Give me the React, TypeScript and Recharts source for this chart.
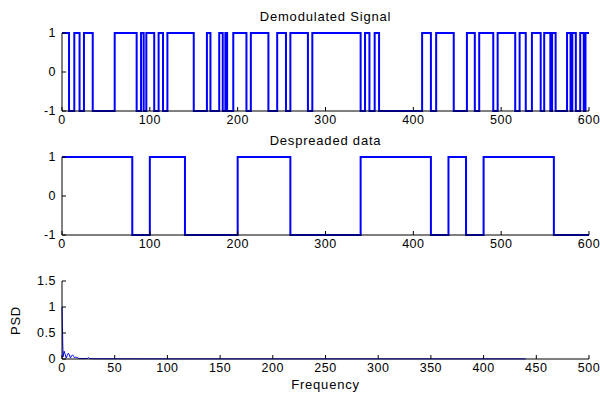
import { LineChart, Line, XAxis, YAxis } from "recharts";

// demodulated signal: sample index where the level changes, and the level from there on
const demodEdges = [
  0, 8, 14, 20, 25, 35, 60, 85, 90, 93, 96, 105, 110, 115, 120, 150, 165, 169,
  179, 183, 186, 188, 195, 210, 215, 235, 245, 255, 260, 280, 285, 340, 345,
  350, 356, 361, 410, 420, 426, 446, 461, 470, 475, 491, 496, 516, 521, 528,
  535, 545, 549, 556, 558, 562, 575, 579, 581, 585, 590, 594, 596, 600,
];
const demodLevels = [
  1, -1, 1, -1, 1, -1, 1, -1, 1, -1, 1, -1, 1, -1, 1, -1, 1, -1,
  1, -1, 1, -1, 1, -1, 1, -1, 1, -1, 1, -1, 1, -1, 1,
  -1, 1, -1, 1, -1, 1, -1, 1, -1, 1, -1, 1, -1, 1, -1,
  1, -1, 1, -1, 1, -1, 1, -1, 1, -1, 1, -1, 1, 1,
];

// despreaded data bits
const despreadEdges = [0, 80, 100, 140, 200, 260, 340, 420, 440, 460, 480, 560, 600];
const despreadLevels = [1, -1, 1, -1, 1, -1, 1, -1, 1, -1, 1, -1, -1];

// power spectral density
const psdFreq = [0, 1, 2, 3, 4, 5, 6, 7, 8, 9, 10, 11, 12, 13, 14, 16, 20, 24, 25, 26, 30, 60, 100, 200, 300, 440];
const psdValue = [1.0, 0.04, 0.15, 0.09, 0.02, 0.07, 0.11, 0.08, 0.02, 0.06, 0.08, 0.05, 0.02, 0.04, 0.03, 0.01, 0.01, 0.01, 0.03, 0.01, 0.005, 0.004, 0.003, 0.003, 0.003, 0.003];

const xTicks600 = [0, 100, 200, 300, 400, 500, 600];
const xTicks500 = [0, 50, 100, 150, 200, 250, 300, 350, 400, 450, 500];
const yTicksSig = [-1, 0, 1];
const yTicksPsd = [0, 0.5, 1, 1.5];

const FONT = '"Liberation Sans", Arial, Helvetica, sans-serif';
const tickStyle = { fontSize: 12.5, fill: "#000", fontFamily: FONT, letterSpacing: 0.5 };
const blank = () => "";

const demodData = demodEdges.map((x, i) => ({ x, y: demodLevels[i] }));
const despreadData = despreadEdges.map((x, i) => ({ x, y: despreadLevels[i] }));
const psdData = psdFreq.map((x, i) => ({ x, y: psdValue[i] }));

interface PanelProps {
  top: number;
  height: number;
  marginTop: number;
  data: { x: number; y: number }[];
  xMax: number;
  xTicks: number[];
  yMin: number;
  yMax: number;
  yTicks: number[];
  step: boolean;
  width: number;
}

function Panel({ top, height, marginTop, data, xMax, xTicks, yMin, yMax, yTicks, step, width }: PanelProps) {
  const axisLine = { stroke: "#000", strokeWidth: 1 };
  return (
    <div style={{ position: "absolute", left: 0, top }}>
      <LineChart
        width={600}
        height={height}
        data={data}
        margin={{ top: marginTop, right: 11, bottom: height - marginTop - 78 - 20, left: 0 }}
      >
        <XAxis
          dataKey="x"
          type="number"
          domain={[0, xMax]}
          ticks={xTicks}
          interval={0}
          height={20}
          tickSize={-4}
          tickMargin={8}
          tick={tickStyle}
          axisLine={axisLine}
          tickLine={axisLine}
        />
        <XAxis
          xAxisId="top"
          orientation="top"
          dataKey="x"
          type="number"
          domain={[0, xMax]}
          ticks={xTicks}
          interval={0}
          height={0}
          tickSize={-4}
          tickFormatter={blank}
          axisLine={axisLine}
          tickLine={axisLine}
        />
        <YAxis
          type="number"
          domain={[yMin, yMax]}
          ticks={yTicks}
          interval={0}
          width={62}
          tickSize={-4}
          tickMargin={10}
          tick={tickStyle}
          axisLine={axisLine}
          tickLine={axisLine}
        />
        <YAxis
          yAxisId="right"
          orientation="right"
          type="number"
          domain={[yMin, yMax]}
          ticks={yTicks}
          interval={0}
          width={0}
          tickSize={-4}
          tickFormatter={blank}
          axisLine={axisLine}
          tickLine={axisLine}
        />
        <Line
          dataKey="y"
          type={step ? "stepAfter" : "linear"}
          stroke="#0000ff"
          strokeWidth={width}
          dot={false}
          activeDot={false}
          isAnimationActive={false}
        />
      </LineChart>
    </div>
  );
}

const labelStyle = {
  position: "absolute" as const,
  fontFamily: FONT,
  fontSize: 13,
  letterSpacing: 0.8,
  lineHeight: "15px",
  color: "#000",
};

export default function App() {
  return (
    <div style={{ position: "absolute", left: 0, top: 0, width: 600, height: 394, background: "#fff" }}>
      <Panel top={0} height={131} marginTop={33} data={demodData} xMax={600} xTicks={xTicks600} yMin={-1} yMax={1} yTicks={yTicksSig} step width={2} />
      <Panel top={131} height={124} marginTop={26} data={despreadData} xMax={600} xTicks={xTicks600} yMin={-1} yMax={1} yTicks={yTicksSig} step width={2} />
      <Panel top={255} height={139} marginTop={26} data={psdData} xMax={500} xTicks={xTicks500} yMin={0} yMax={1.5} yTicks={yTicksPsd} step={false} width={1} />

      <div style={{ ...labelStyle, left: 62, width: 527, top: 9, textAlign: "center" }}>Demodulated Signal</div>
      <div style={{ ...labelStyle, left: 62, width: 527, top: 133, textAlign: "center" }}>Despreaded data</div>
      <div style={{ ...labelStyle, left: 62, width: 527, top: 377, textAlign: "center" }}>Frequency</div>
      <div
        style={{
          ...labelStyle,
          left: 15 - 30,
          top: 320 - 7,
          width: 60,
          textAlign: "center",
          transform: "rotate(-90deg)",
        }}
      >
        PSD
      </div>
    </div>
  );
}
